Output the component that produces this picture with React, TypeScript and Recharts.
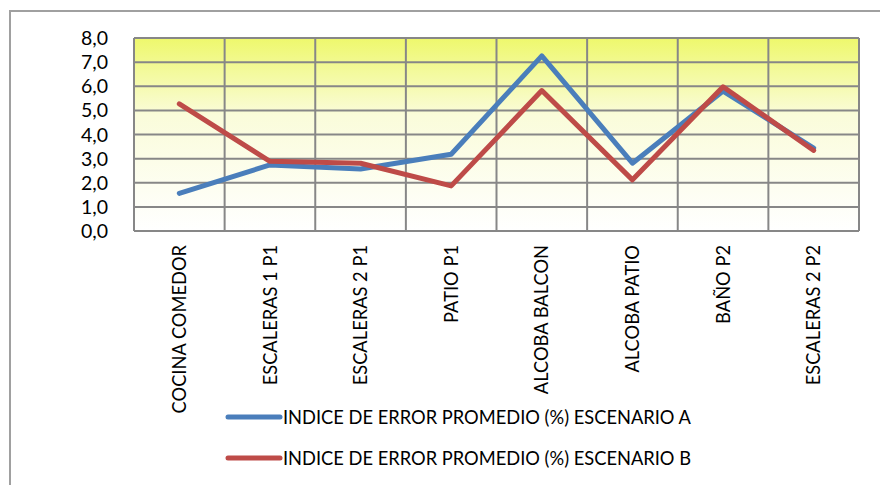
import React from 'react';
import { LineChart, Line, XAxis, YAxis, CartesianGrid, Legend } from 'recharts';

const categories = ['COCINA COMEDOR', 'ESCALERAS 1 P1', 'ESCALERAS 2 P1', 'PATIO P1', 'ALCOBA BALCON', 'ALCOBA PATIO', 'BAÑO P2', 'ESCALERAS 2 P2'];
const seriesA = [1.56, 2.74, 2.57, 3.18, 7.26, 2.81, 5.8, 3.44];
const seriesB = [5.27, 2.89, 2.81, 1.87, 5.82, 2.12, 5.98, 3.34];
const yTicks = [0, 1, 2, 3, 4, 5, 6, 7, 8];
const nameA = 'INDICE DE ERROR PROMEDIO (%) ESCENARIO A';
const nameB = 'INDICE DE ERROR PROMEDIO (%) ESCENARIO B';

const data = categories.map((c, i) => ({ name: c, a: seriesA[i], b: seriesB[i] }));

const FONT = 'Lato, "Open Sans", sans-serif';

const XTick = (props: any) => {
  const { x, y, payload } = props;
  return (
    <g transform={`translate(${x},${y})`}>
      <text transform="rotate(-90)" x={-12} y={0} dy="0.36em" textAnchor="end" fontSize={18.3} fontFamily={FONT} fill="#000">
        {payload.value}
      </text>
    </g>
  );
};

const YTick = (props: any) => {
  const { x, y, payload } = props;
  return (
    <text x={x} y={y} dy="0.36em" textAnchor="end" fontSize={19.5} fontFamily={FONT} fill="#000">
      {Number(payload.value).toFixed(1).replace('.', ',')}
    </text>
  );
};

const LegendContent = (props: any) => {
  const items = props.payload || [];
  return (
    <div style={{ fontFamily: FONT, fontSize: 18.3, color: '#000' }}>
      {items.map((it: any) => (
        <div key={it.value} style={{ display: 'flex', alignItems: 'center', height: 41 }}>
          <svg width={58} height={10} style={{ display: 'block' }}>
            <line x1={3} y1={5} x2={55} y2={5} stroke={it.color} strokeWidth={5} strokeLinecap="round" />
          </svg>
          <span style={{ marginLeft: 0, whiteSpace: 'nowrap' }}>{it.value}</span>
        </div>
      ))}
    </div>
  );
};

export default function App() {
  return (
    <div style={{ position: 'relative', width: 880, height: 477, overflow: 'hidden' }}>
      <div style={{ position: 'absolute', left: 1, top: 2, width: 1000, height: 600, border: '2px solid #a0a0a0', boxSizing: 'border-box' }} />
      <LineChart width={880} height={477} data={data} margin={{ top: 30, right: 29, left: 0, bottom: 0 }}>
        <defs>
          <linearGradient id="bgGrad" x1="0" y1="0" x2="0" y2="1">
            <stop offset="0" stopColor="#EEF86C" />
            <stop offset="0.4" stopColor="#FAFCDA" />
            <stop offset="1" stopColor="#FFFFFF" />
          </linearGradient>
        </defs>
        <CartesianGrid
          stroke="#878787"
          strokeWidth={2}
          fill="url(#bgGrad)"
          fillOpacity={1}
          verticalCoordinatesGenerator={({ offset }: any) =>
            categories.map((_, i) => offset.left + (i * offset.width) / categories.length).concat([offset.left + offset.width])
          }
        />
        <XAxis
          dataKey="name"
          scale="band"
          interval={0}
          height={254}
          tick={<XTick />}
          tickLine={false}
          axisLine={false}
          tickSize={0}
        />
        <YAxis
          domain={[0, 8]}
          ticks={yTicks}
          interval={0}
          width={126}
          tickLine={false}
          axisLine={false}
          tickSize={0}
          tickMargin={26}
          tick={<YTick />}
        />
        <Legend
          layout="vertical"
          align="center"
          verticalAlign="middle"
          wrapperStyle={{ left: 217, top: 388, width: 600 }}
          content={<LegendContent />}
        />
        <Line name={nameA} dataKey="a" stroke="#4A7EBB" strokeWidth={5} dot={false} activeDot={false} isAnimationActive={false} strokeLinecap="round" strokeLinejoin="round" />
        <Line name={nameB} dataKey="b" stroke="#BE4B48" strokeWidth={5} dot={false} activeDot={false} isAnimationActive={false} strokeLinecap="round" strokeLinejoin="round" />
      </LineChart>
    </div>
  );
}
